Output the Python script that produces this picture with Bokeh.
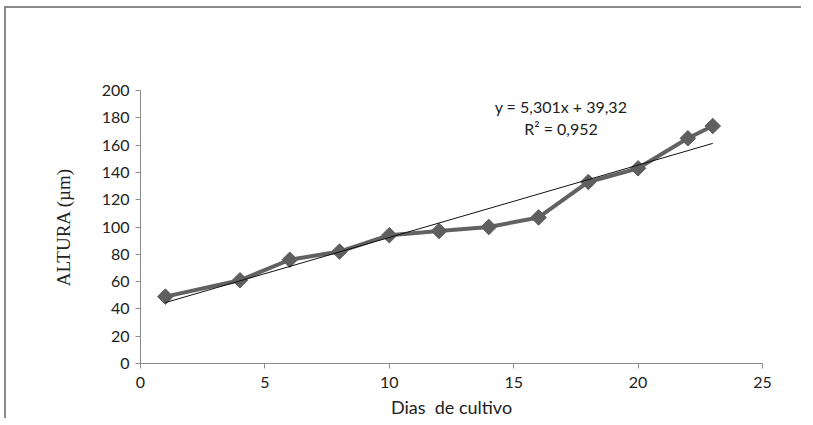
import math
from bokeh.plotting import figure
from bokeh.models import Range1d, FixedTicker, Label
from bokeh.embed import file_html
from bokeh.resources import INLINE

# Data
dias = [1, 4, 6, 8, 10, 12, 14, 16, 18, 20, 22, 23]
altura = [49, 61, 76, 82, 94, 97, 100, 107, 133, 143, 165, 174]

# Linear trendline (as printed on the chart)
slope = 5.301
intercept = 39.32
eq_text = "y = 5,301x + 39,32"
r2_text = "R² = 0,952"
y_title = "ALTURA (µm)"
x_title = "Dias\u00a0 de cultivo"

x_ticks = [0, 5, 10, 15, 20, 25]
y_ticks = [0, 20, 40, 60, 80, 100, 120, 140, 160, 180, 200]

p = figure(width=797, height=412, output_backend="svg", toolbar_location=None,
           x_range=Range1d(0, 25), y_range=Range1d(0, 200),
           min_border_left=134, min_border_right=41, min_border_top=82, min_border_bottom=57)
p.margin = (6, 0, 0, 4)
p.styles = {"border-left": "2px solid #8a8a8a", "border-top": "2px solid #8a8a8a"}
p.outline_line_color = None
p.xgrid.grid_line_color = None
p.ygrid.grid_line_color = None

tick_font = "Lato"
for ax in (p.xaxis[0], p.yaxis[0]):
    ax.axis_line_color = "#8c8c8c"
    ax.major_tick_line_color = "#8c8c8c"
    ax.minor_tick_line_color = None
    ax.major_tick_in = 0
    ax.major_tick_out = 5
    ax.major_label_text_font = tick_font
    ax.major_label_text_font_size = "16px"
    ax.major_label_text_color = "#222222"

p.xaxis[0].ticker = FixedTicker(ticks=x_ticks)
p.yaxis[0].ticker = FixedTicker(ticks=y_ticks)
p.xaxis[0].major_label_standoff = 8
p.yaxis[0].major_label_standoff = 6

p.xaxis[0].axis_label = x_title
p.xaxis[0].axis_label_text_font = tick_font
p.xaxis[0].axis_label_text_font_size = "18px"
p.xaxis[0].axis_label_text_font_style = "normal"
p.xaxis[0].axis_label_text_color = "#222222"
p.xaxis[0].axis_label_standoff = 5

p.yaxis[0].axis_label = y_title
p.yaxis[0].axis_label_text_font = "Liberation Serif"
p.yaxis[0].axis_label_text_font_size = "19px"
p.yaxis[0].axis_label_text_font_style = "normal"
p.yaxis[0].axis_label_text_color = "#222222"
p.yaxis[0].axis_label_standoff = 25

# data series
p.line(dias, altura, line_color="#626262", line_width=4)
p.scatter(dias, altura, marker="square", angle=math.pi / 4, size=11,
          fill_color="#5f5f5f", line_color="#5f5f5f")

# trendline
tx = [min(dias), max(dias)]
ty = [slope * v + intercept for v in tx]
p.line(tx, ty, line_color="#111111", line_width=1)

p.add_layout(Label(x=16.9, y=188, text=eq_text, text_align="center", text_baseline="middle",
                   text_font=tick_font, text_font_size="16px", text_color="#222222"))
p.add_layout(Label(x=16.9, y=172, text=r2_text, text_align="center", text_baseline="middle",
                   text_font=tick_font, text_font_size="16px", text_color="#222222"))

open("out.html", "w").write(file_html(p, INLINE))
